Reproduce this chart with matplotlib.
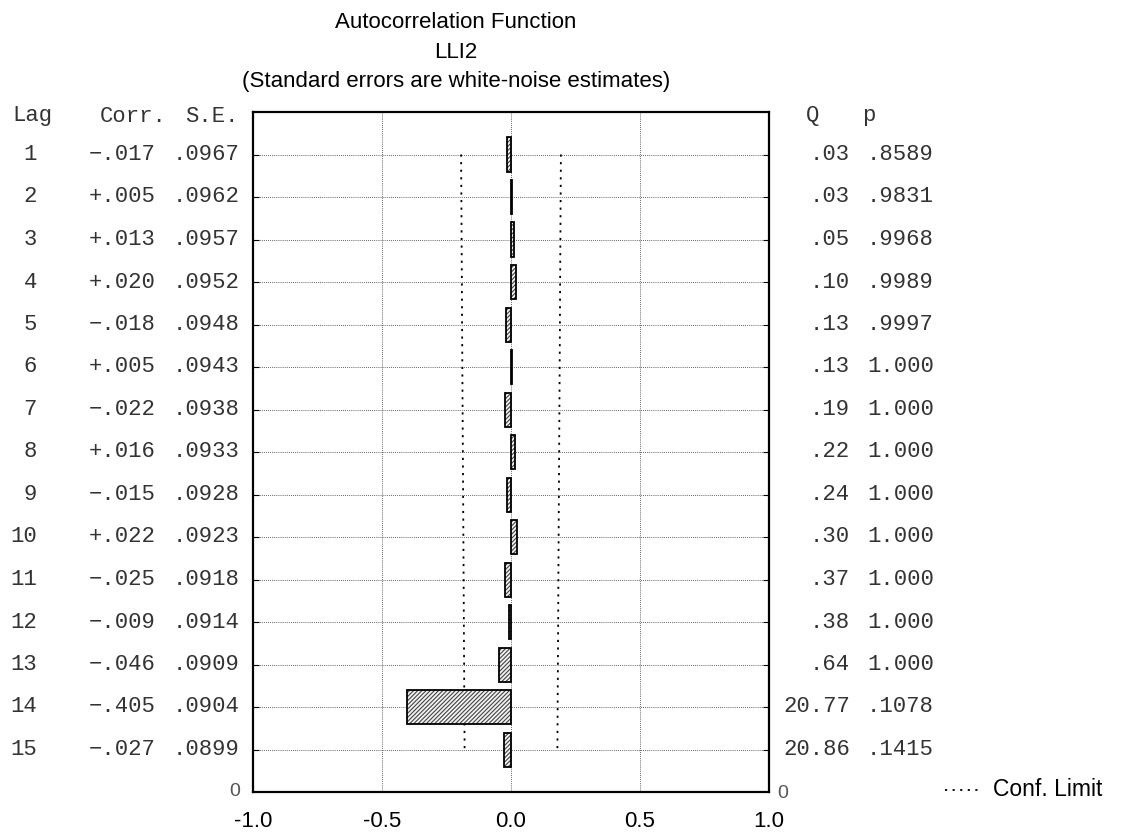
import numpy as np
import matplotlib.pyplot as plt

lags = list(range(1, 16))
corr = [-0.017, 0.005, 0.013, 0.020, -0.018, 0.005, -0.022, 0.016,
        -0.015, 0.022, -0.025, -0.009, -0.046, -0.405, -0.027]
se = [0.0967, 0.0962, 0.0957, 0.0952, 0.0948, 0.0943, 0.0938, 0.0933,
      0.0928, 0.0923, 0.0918, 0.0914, 0.0909, 0.0904, 0.0899]
q_vals = ['.03', '.03', '.05', '.10', '.13', '.13', '.19', '.22',
          '.24', '.30', '.37', '.38', '.64', '20.77', '20.86']
p_vals = ['.8589', '.9831', '.9968', '.9989', '.9997', '1.000', '1.000', '1.000',
          '1.000', '1.000', '1.000', '1.000', '1.000', '.1078', '.1415']

plt.rcParams['hatch.linewidth'] = 0.8

W, H = 1125, 834
fig = plt.figure(figsize=(W / 100, H / 100), dpi=100)
ax = fig.add_axes([253 / W, 1 - 792 / H, (769 - 253) / W, (792 - 112) / H])

pos = [16 - k for k in lags]
conf = [2 * s for s in se]

# hatch layer (gray), then black outline on top
ax.barh(pos, corr, height=0.8, facecolor='#f2f2f2', edgecolor='#444444',
        hatch='////////', linewidth=0, zorder=3)
ax.barh(pos, corr, height=0.8, fill=False, edgecolor='black',
        linewidth=1.3, zorder=4)
ax.plot(conf, pos, ls=(0, (1.2, 3)), color='black', lw=1.3, zorder=2)
ax.plot([-c for c in conf], pos, ls=(0, (1.2, 3)), color='black', lw=1.3, zorder=2)

ax.set_xlim(-1, 1)
ax.set_ylim(0, 16)
ax.set_xticks([-1.0, -0.5, 0.0, 0.5, 1.0])
ax.set_xticklabels(['-1.0', '-0.5', '0.0', '0.5', '1.0'], fontsize=16,
                   family='Liberation Sans')
ax.set_yticks(pos)
ax.set_yticklabels([])
ax.tick_params(axis='y', direction='in', length=4, left=True, right=True)
ax.tick_params(axis='x', length=0, pad=14)
for x in [-0.5, 0.0, 0.5]:
    ax.axvline(x, color='#333333', lw=0.6, ls=(0, (1, 1.5)), zorder=1)
for p in pos:
    ax.axhline(p, color='#333333', lw=0.6, ls=(0, (1, 1.5)), zorder=1)
for s in ax.spines.values():
    s.set_linewidth(1.6)

mono = dict(family='Liberation Mono', fontsize=16, color='#333333',
            transform=fig.transFigure, va='center')


def fx(px):
    return px / W


def fy(py):
    return 1 - py / H


fig.text(fx(240), fy(792), '0', ha='right', va='center', fontsize=14,
         color='#555555', family='Liberation Sans')
fig.text(fx(777), fy(794), '0', ha='left', va='center', fontsize=14,
         color='#555555', family='Liberation Sans')

fig.text(fx(12), fy(116), 'Lag', ha='left', **mono)
fig.text(fx(100), fy(116), 'Corr.', ha='left', **mono)
fig.text(fx(239), fy(116), 'S.E.', ha='right', **mono)
fig.text(fx(806), fy(116), 'Q', ha='left', **mono)
fig.text(fx(862), fy(116), 'p', ha='left', **mono)

for k, c, s, q, p in zip(lags, corr, se, q_vals, p_vals):
    y = 792 - (16 - k) * (792 - 112) / 16
    cs = ('\u2212' if c < 0 else '+') + ('%.3f' % abs(c))[1:]
    fig.text(fx(37), fy(y), str(k), ha='right', **mono)
    fig.text(fx(156), fy(y), cs, ha='right', **mono)
    fig.text(fx(239), fy(y), ('%.4f' % s)[1:], ha='right', **mono)
    fig.text(fx(850), fy(y), q, ha='right', **mono)
    fig.text(fx(867), fy(y), p, ha='left', **mono)

sans = dict(ha='center', va='center', fontsize=16, family='Liberation Sans')
fig.text(fx(456), fy(22), 'Autocorrelation Function', **sans)
fig.text(fx(456), fy(52), 'LLI2', **sans)
fig.text(fx(456), fy(82), '(Standard errors are white-noise estimates)', **sans)

fig.lines.append(plt.Line2D([fx(945), fx(980)], [fy(790), fy(790)],
                            transform=fig.transFigure, color='black',
                            lw=1.3, ls=(0, (1.2, 3))))
fig.text(fx(993), fy(790), 'Conf. Limit', ha='left', va='center',
         fontsize=16.5, family='Liberation Sans')

fig.savefig('out.png', dpi=100)
